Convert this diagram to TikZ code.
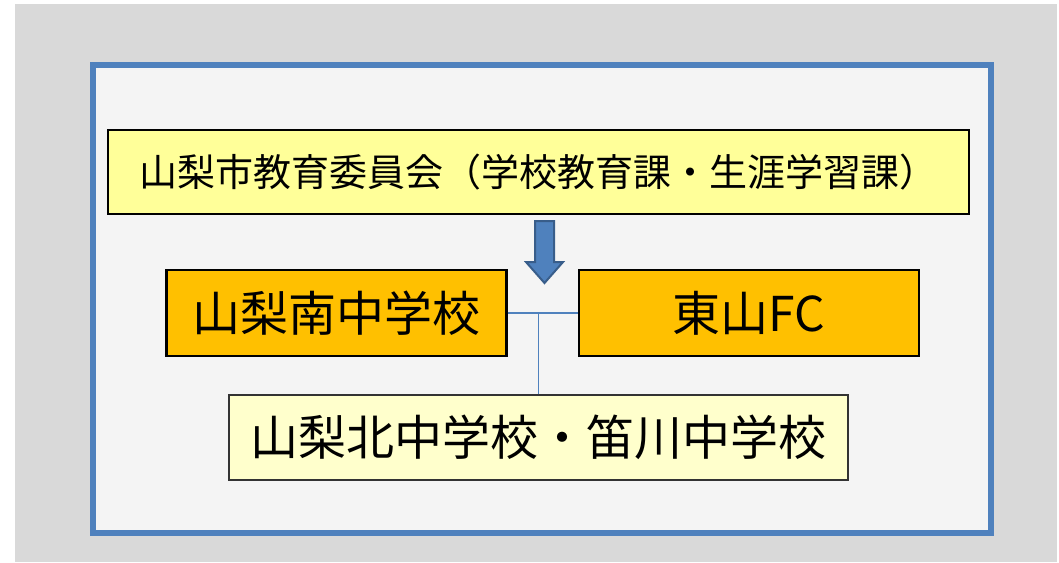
\documentclass[tikz,border=0pt]{standalone}
\usepackage{fontspec}
\usepackage{xcolor}
\usetikzlibrary{calc}
\newfontfamily\cjk{Noto Sans CJK JP}
\definecolor{bgray}{HTML}{D9D9D9}
\definecolor{panel}{HTML}{F4F4F4}
\definecolor{frame}{HTML}{4F81BD}
\definecolor{frameDk}{HTML}{385D8A}
\definecolor{paleY}{HTML}{FFFF99}
\definecolor{creamY}{HTML}{FFFFCC}
\definecolor{amber}{HTML}{FFC000}
\tikzset{
  orgbox/.style={draw=black, line width=1.6pt, inner sep=0pt, font=\cjk},
  topbox/.style={orgbox, fill=paleY, minimum width=645.75pt, minimum height=63pt,
    font=\cjk\fontsize{28.5}{32}\selectfont},
  schbox/.style={orgbox, fill=amber, minimum width=255pt, minimum height=64.5pt,
    font=\cjk\fontsize{36}{40}\selectfont},
  lowbox/.style={orgbox, draw=black!80, line width=1pt, fill=creamY,
    minimum width=464.25pt, minimum height=63.75pt, font=\cjk\fontsize{36}{40}\selectfont},
  link/.style={draw=frame, line width=1.3pt}
}
\begin{document}
\begin{tikzpicture}[x=0.75pt, y=-0.75pt]
  \useasboundingbox (0,0) rectangle (1059,562);
  \fill[bgray] (15,4) rectangle (1057,562);
  \draw[frame, fill=panel, line width=4.5pt] (92.5,64.5) rectangle (991,533);

  \node[topbox] (edu) at (538.5,172) {山梨市教育委員会（学校教育課・生涯学習課）};
  \node[schbox] (south) at (336.5,313) {山梨南中学校};
  \node[schbox] (fc) at (749,313) {東山FC};
  \node[lowbox] (north) at (538.5,437.5) {山梨北中学校・笛川中学校};

  % down arrow
  \draw[fill=frame, draw=frameDk, line width=1.5pt, line join=miter]
    (535,221) -- (554,221) -- (554,262) -- (563,262) -- (544.5,283)
    -- (526,262) -- (535,262) -- cycle;

  \draw[link] (south.east) -- (fc.west);
  \draw[link] (north.north) -- (north.north |- fc.west);
\end{tikzpicture}
\end{document}
